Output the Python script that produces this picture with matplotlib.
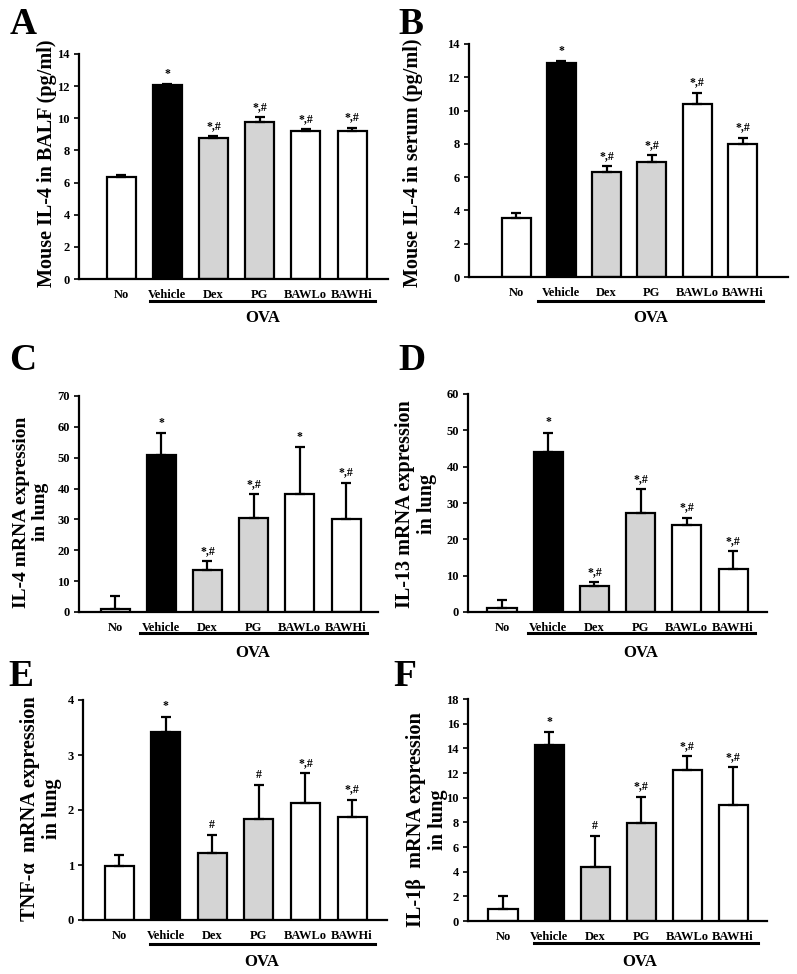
import matplotlib
matplotlib.use('Agg')
import matplotlib.pyplot as plt
from matplotlib.lines import Line2D

plt.rcParams['font.family'] = ['Liberation Serif', 'DejaVu Serif']
plt.rcParams['font.weight'] = 'bold'

groups = ['No', 'Vehicle', 'Dex', 'PG', 'BAWLo', 'BAWHi']
bar_colors = ['white', 'black', '#d4d4d4', '#d4d4d4', 'white', 'white']

a_means = [6.37, 12.07, 8.76, 9.76, 9.24, 9.24]
a_errs = [0.12, 0.06, 0.14, 0.32, 0.08, 0.18]
a_marks = ['', '*', '*,#', '*,#', '*,#', '*,#']

b_means = [3.55, 12.87, 6.33, 6.89, 10.38, 7.99]
b_errs = [0.27, 0.08, 0.34, 0.44, 0.69, 0.38]
b_marks = ['', '*', '*,#', '*,#', '*,#', '*,#']

c_means = [1.1, 50.8, 13.7, 30.6, 38.1, 30.3]
c_errs = [4.0, 7.2, 2.7, 7.5, 15.4, 11.6]
c_marks = ['', '*', '*,#', '*,#', '*', '*,#']

d_means = [1.1, 44.0, 7.2, 27.3, 23.9, 11.7]
d_errs = [2.1, 5.4, 1.1, 6.6, 2.1, 5.1]
d_marks = ['', '*', '*,#', '*,#', '*,#', '*,#']

e_means = [0.99, 3.41, 1.21, 1.84, 2.13, 1.88]
e_errs = [0.19, 0.29, 0.33, 0.61, 0.54, 0.31]
e_marks = ['', '*', '#', '#', '*,#', '*,#']

f_means = [1.0, 14.26, 4.36, 7.92, 12.25, 9.43]
f_errs = [1.0, 1.06, 2.53, 2.16, 1.09, 3.07]
f_marks = ['', '*', '#', '*,#', '*,#', '*,#']

ylabels = ['Mouse IL-4 in BALF (pg/ml)',
           'Mouse IL-4 in serum (pg/ml)',
           'IL-4 mRNA expression\nin lung',
           'IL-13 mRNA expression\nin lung',
           'TNF-\u03b1  mRNA expression\nin lung',
           'IL-1\u03b2  mRNA expression\nin lung']
panel_letters = ['A', 'B', 'C', 'D', 'E', 'F']
group_label = 'OVA'

W, H = 797, 974
fig = plt.figure(figsize=(W / 100, H / 100), dpi=100)

# layout in pixels: ax_left, ax_right, y0_px, ytop_px, first_center, spacing,
# underline (x1, x2, y), OVA (x, y), ylabel (x, y, size), letter (x, y), ymax, ystep
layouts = [
    (79, 388, 279, 54, 121, 46.2, (150, 375, 301), (263, 318), (47, 163, 14.5), (23, 25), 14, 2),
    (469, 788, 277, 44, 516, 45.3, (538, 763, 301), (651, 318), (413, 163, 14.5), (411, 24), 14, 2),
    (79, 378, 612, 396, 115, 46.2, (140, 367, 633), (253, 653), (31, 512, 14), (23, 361), 70, 10),
    (468, 767, 612, 394, 502, 46.2, (528, 755, 633), (641, 653), (416, 504, 14.5), (412, 361), 60, 10),
    (83, 387, 920, 700, 119, 46.6, (150, 375, 944), (262, 962), (41, 809, 14.6), (21, 677), 4, 1),
    (468, 767, 921, 699, 503, 46.0, (534, 758, 943), (640, 962), (427, 820, 14.6), (405, 676), 18, 2),
]
data = [(a_means, a_errs, a_marks), (b_means, b_errs, b_marks),
        (c_means, c_errs, c_marks), (d_means, d_errs, d_marks),
        (e_means, e_errs, e_marks), (f_means, f_errs, f_marks)]

for k, (lay, (means, errs, marks)) in enumerate(zip(layouts, data)):
    (axl, axr, y0, yt, c0, sp, ul, ova, ylp, letp, ymax, ystep) = lay
    ax = fig.add_axes([axl / W, 1 - y0 / H, (axr - axl) / W, (y0 - yt) / H])
    xs = list(range(len(groups)))
    ax.bar(xs, means, width=29 / sp, color=bar_colors, edgecolor='black',
           linewidth=1.6, zorder=2)
    ax.errorbar(xs, means, yerr=[[0] * len(means), errs], fmt='none',
                ecolor='black', elinewidth=1.6, capsize=3.5, capthick=1.6, zorder=3)
    for x, m, e, t in zip(xs, means, errs, marks):
        if t:
            ax.annotate(t, (x, m + e), xytext=(0, 3), textcoords='offset points',
                        ha='center', va='bottom', fontsize=8.5)
    ax.set_xlim((axl - c0) / sp, (axr - c0) / sp)
    ax.set_ylim(0, ymax)
    ax.set_yticks(list(range(0, ymax + 1, ystep)))
    ax.set_xticks(xs)
    ax.set_xticklabels(groups)
    ax.tick_params(axis='x', length=0, pad=7, labelsize=9)
    ax.tick_params(axis='y', length=3.5, width=1.2, pad=3, labelsize=9)
    for s in ['top', 'right']:
        ax.spines[s].set_visible(False)
    for s in ['left', 'bottom']:
        ax.spines[s].set_linewidth(1.6)
    fig.add_artist(Line2D([ul[0] / W, ul[1] / W], [1 - ul[2] / H, 1 - ul[2] / H],
                          color='black', linewidth=2.2))
    fig.text(ova[0] / W, 1 - ova[1] / H, group_label, ha='center', va='center',
             fontsize=12)
    fig.text(ylp[0] / W, 1 - ylp[1] / H, ylabels[k], rotation=90, ha='center',
             va='center', fontsize=ylp[2], multialignment='center', linespacing=1.12)
    fig.text(letp[0] / W, 1 - letp[1] / H, panel_letters[k], ha='center',
             va='center', fontsize=27)

fig.savefig('out.png', dpi=100)
